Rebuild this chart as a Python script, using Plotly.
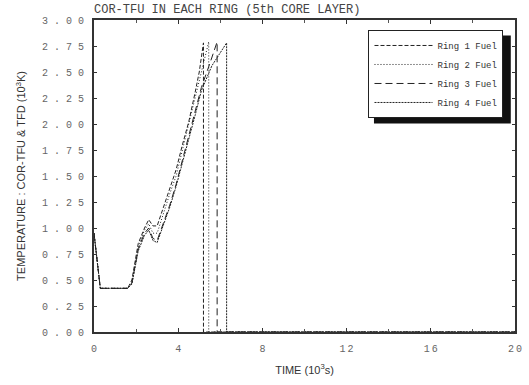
import plotly.graph_objects as go

# ---- data (time in 10^3 s, temperature in 10^3 K) ----
ring1_t = [0, 0.1, 0.3, 1.6, 1.8, 2.1, 2.4, 2.6, 2.8, 3.0, 3.3, 3.6, 3.9, 4.2, 4.5, 4.8, 5.0, 5.2, 5.2, 20]
ring1_y = [0.95, 0.75, 0.42, 0.42, 0.50, 0.85, 1.00, 1.08, 1.02, 1.02, 1.20, 1.38, 1.56, 1.80, 2.02, 2.30, 2.50, 2.78, 0, 0]
ring2_t = [0, 0.1, 0.3, 1.6, 1.8, 2.1, 2.4, 2.6, 2.8, 3.0, 3.3, 3.6, 3.9, 4.2, 4.5, 4.8, 5.1, 5.45, 5.45, 20]
ring2_y = [0.95, 0.75, 0.42, 0.42, 0.48, 0.82, 0.98, 1.04, 0.95, 0.95, 1.15, 1.33, 1.50, 1.75, 1.98, 2.25, 2.50, 2.79, 0, 0]
ring3_t = [0, 0.1, 0.3, 1.6, 1.8, 2.1, 2.4, 2.6, 2.8, 3.0, 3.3, 3.6, 3.9, 4.2, 4.5, 4.8, 5.1, 5.5, 5.85, 5.85, 20]
ring3_y = [0.95, 0.75, 0.42, 0.42, 0.47, 0.80, 0.95, 1.00, 0.90, 0.88, 1.05, 1.22, 1.42, 1.65, 1.88, 2.12, 2.35, 2.58, 2.79, 0, 0]
ring4_t = [0, 0.1, 0.3, 1.6, 1.8, 2.1, 2.4, 2.6, 2.8, 3.0, 3.3, 3.6, 3.9, 4.2, 4.5, 4.8, 5.1, 5.6, 6.3, 6.3, 20]
ring4_y = [0.95, 0.75, 0.42, 0.42, 0.46, 0.78, 0.93, 0.98, 0.88, 0.86, 1.02, 1.20, 1.40, 1.62, 1.85, 2.08, 2.32, 2.56, 2.78, 0, 0]

series_names = ["Ring 1 Fuel", "Ring 2 Fuel", "Ring 3 Fuel", "Ring 4 Fuel"]
x_tick_vals = [0, 4, 8, 12, 16, 20]
x_tick_labels = ["0", "4", "8", "12", "16", "20"]
y_tick_vals = [0, 0.25, 0.5, 0.75, 1.0, 1.25, 1.5, 1.75, 2.0, 2.25, 2.5, 2.75, 3.0]
y_tick_labels = ["0.00", "0.25", "0.50", "0.75", "1.00", "1.25", "1.50", "1.75",
                 "2.00", "2.25", "2.50", "2.75", "3.00"]

dashes = ["4px,2px", "1px,2px", "7px,4px", "2px,1px"]
data = [(ring1_t, ring1_y), (ring2_t, ring2_y), (ring3_t, ring3_y), (ring4_t, ring4_y)]

fig = go.Figure()
for (t, y), name, d in zip(data, series_names, dashes):
    fig.add_trace(go.Scatter(x=t, y=y, mode="lines", name=name,
                             line=dict(color="#222222", width=1, dash=d)))

tickfont = dict(family="Liberation Mono", size=10, color="#666666")
titlefont = dict(family="Liberation Sans Narrow, Liberation Sans", size=11, color="#333333")
fig.update_layout(
    width=529, height=385,
    margin=dict(l=94, r=7, t=20, b=53),
    paper_bgcolor="white", plot_bgcolor="white",
    showlegend=True,
    legend=dict(x=0.652, y=0.968, xanchor="left", yanchor="top",
                bgcolor="white", bordercolor="#222222", borderwidth=1,
                font=dict(family="Liberation Mono", size=9, color="#333333"),
                tracegroupgap=0, itemwidth=58),
    title=dict(text="COR-TFU IN EACH RING (5th CORE LAYER)", x=94/529, xanchor="left",
               y=1 - 9/385, yanchor="middle",
               font=dict(family="Liberation Mono", size=12, color="#444444")),
    font=dict(family="Liberation Sans", color="#444444"),
)
fig.update_xaxes(range=[0, 20], tickvals=x_tick_vals,
                 ticktext=["\u2009".join(s) for s in x_tick_labels],
                 ticks="inside", ticklen=4, tickcolor="#333333", tickwidth=1,
                 minor=dict(dtick=2, ticks="inside", ticklen=3, tickcolor="#555555"),
                 showgrid=False, zeroline=False, showline=True, linecolor="#333333",
                 linewidth=2, mirror="ticks", tickfont=tickfont, ticklabelstandoff=6,
                 ticklabeloverflow="allow",
                 title=dict(text="TIME (10<sup>3</sup>s)", standoff=12, font=titlefont))
fig.update_yaxes(range=[0, 3], tickvals=y_tick_vals,
                 ticktext=[" ".join(s) for s in y_tick_labels],
                 ticks="inside", ticklen=3, tickcolor="#333333", tickwidth=1,
                 showgrid=False, zeroline=False, showline=True, linecolor="#333333",
                 linewidth=2, mirror="ticks", tickfont=tickfont, ticklabelstandoff=6,
                 title=dict(text="TEMPERATURE : COR-TFU & TFD (10<sup>3</sup>K)", standoff=14,
                            font=titlefont))

# legend drop shadow
fig.add_shape(type="rect", xref="paper", yref="paper",
              x0=0.665, x1=0.99, y0=0.668, y1=0.95,
              fillcolor="#111111", line=dict(width=0), layer="above")

fig.write_html("out.html")
